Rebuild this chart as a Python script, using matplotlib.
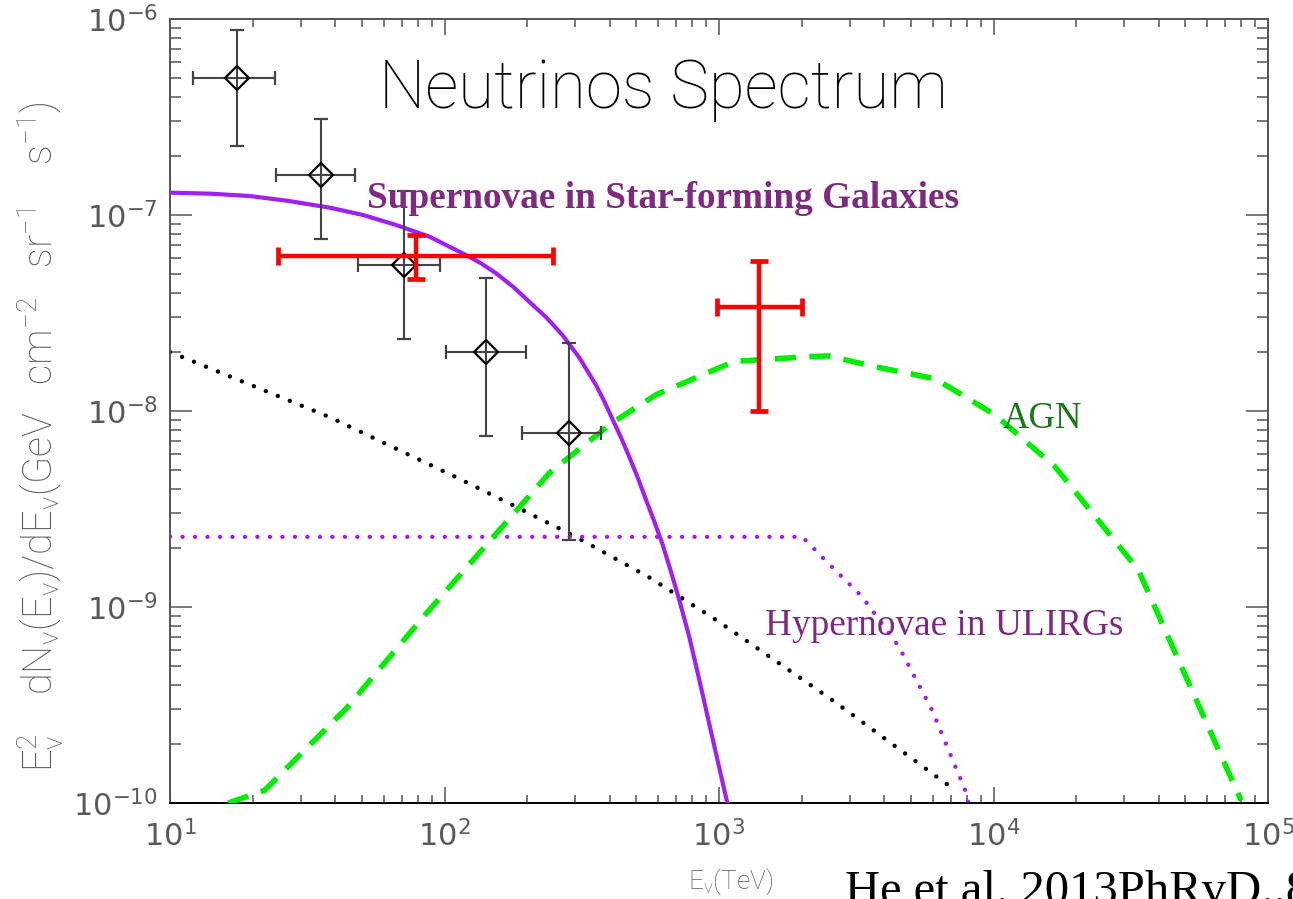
import matplotlib
matplotlib.use("Agg")
import matplotlib.pyplot as plt
from matplotlib.ticker import LogLocator, NullFormatter

# ---------------- data ----------------
# data points (black diamonds)
data_E = [17.5, 35.6, 71, 142, 283]
data_F = [5.0e-7, 1.6e-7, 5.56e-8, 2.0e-8, 7.76e-9]
data_E_lo = [12.1, 24.3, 48.3, 101, 191]
data_E_hi = [24.1, 47.1, 96, 198, 371]
data_F_lo = [2.25e-7, 7.55e-8, 2.33e-8, 7.45e-9, 2.2e-9]
data_F_hi = [8.8e-7, 3.1e-7, 1.33e-7, 4.75e-8, 2.23e-8]

# red points
red_E = [79, 1400]
red_F = [6.2e-8, 3.4e-8]
red_E_lo = [24.8, 986]
red_E_hi = [249, 2010]
red_F_lo = [4.7e-8, 1.0e-8]
red_F_hi = [7.9e-8, 5.8e-8]

# Supernovae in star-forming galaxies (solid purple)
sn_E = [10, 14, 19.5, 27, 38.2, 50.5, 66.7, 88.2, 116.6, 135, 154.2, 178, 203.6, 235,
        269, 310, 356, 382, 409, 440, 471, 505, 541, 580, 622, 668, 716, 780, 846,
        950, 1072]
sn_F = [1.3e-7, 1.285e-7, 1.25e-7, 1.18e-7, 1.09e-7, 1.0e-7, 8.89e-8, 7.75e-8,
        6.37e-8, 5.7e-8, 5.04e-8, 4.3e-8, 3.61e-8, 3.0e-8, 2.44e-8, 1.87e-8, 1.36e-8,
        1.12e-8, 9.1e-9, 7.3e-9, 5.84e-9, 4.6e-9, 3.55e-9, 2.75e-9, 2.1e-9, 1.52e-9,
        1.09e-9, 7.0e-10, 4.3e-10, 2.1e-10, 1.0e-10]

# black dotted curve
bk_E = [10, 38.2, 110, 172, 301, 565, 1000, 2580, 7260]
bk_F = [2.0e-8, 9.3e-9, 4.6e-9, 3.38e-9, 2.28e-9, 1.4e-9, 8.4e-10, 3.36e-10, 1.16e-10]

# Hypernovae in ULIRGs (dotted purple)
hn_E = [10, 2010, 2580, 3320, 4520, 5970, 7890, 8100]
hn_F = [2.28e-9, 2.28e-9, 1.6e-9, 1.13e-9, 6.28e-10, 2.98e-10, 1.16e-10, 1.0e-10]

# AGN (dashed green)
agn_E = [16.3, 22.1, 43.9, 88, 116, 241, 408, 589, 1135, 2065, 2512, 3715, 6140,
         10140, 16750, 33650, 79800]
agn_F = [1.0e-10, 1.16e-10, 3.04e-10, 9.66e-10, 1.5e-9, 4.83e-9, 8.7e-9, 1.21e-8,
         1.79e-8, 1.89e-8, 1.91e-8, 1.68e-8, 1.46e-8, 9.55e-9, 5.2e-9, 1.55e-9, 1.03e-10]

# ---------------- style ----------------
plt.rcParams['mathtext.fontset'] = 'custom'
plt.rcParams['mathtext.rm'] = 'Roboto:light'
plt.rcParams['mathtext.it'] = 'Roboto:light'
plt.rcParams['mathtext.bf'] = 'Roboto:bold'
plt.rcParams['axes.unicode_minus'] = True

W, H = 1293, 899
fig = plt.figure(figsize=(W / 100, H / 100), dpi=100)
ax = fig.add_axes([170 / W, 1 - 803 / H, 1098 / W, 784 / H])
ax.set_xscale('log')
ax.set_yscale('log')
ax.set_xlim(10, 1e5)
ax.set_ylim(1e-10, 1e-6)

gray = '#5a5a5a'
purple = '#A020F0'
green = '#00EE00'

# curves
ax.plot(bk_E, bk_F, color='black', lw=3.2, linestyle=(0, (0.01, 2.9)),
        dash_capstyle='round', zorder=2)
ax.plot(hn_E, hn_F, color=purple, lw=3.2, linestyle=(0, (0.01, 2.8)),
        dash_capstyle='round', zorder=2)
ax.plot(sn_E, sn_F, color=purple, lw=3.0, zorder=3)
ax.plot(agn_E, agn_F, color=green, lw=4.0, linestyle=(0, (3.8, 2.4)),
        dash_capstyle='butt', zorder=3)

# black data points
xerr = [[e - lo for e, lo in zip(data_E, data_E_lo)],
        [hi - e for e, hi in zip(data_E, data_E_hi)]]
yerr = [[f - lo for f, lo in zip(data_F, data_F_lo)],
        [hi - f for f, hi in zip(data_F, data_F_hi)]]
ax.errorbar(data_E, data_F, xerr=xerr, yerr=yerr, fmt='D', ms=12.5, mfc='none',
            mec='black', mew=1.6, ecolor='#444444', elinewidth=1.5, capsize=4.7,
            capthick=1.5, zorder=4)

# red points
rxerr = [[e - lo for e, lo in zip(red_E, red_E_lo)],
         [hi - e for e, hi in zip(red_E, red_E_hi)]]
ryerr = [[f - lo for f, lo in zip(red_F, red_F_lo)],
         [hi - f for f, hi in zip(red_F, red_F_hi)]]
ax.errorbar(red_E, red_F, xerr=rxerr, yerr=ryerr, fmt='none', ecolor='#FF0000',
            elinewidth=3.2, capsize=6.5, capthick=3.4, zorder=5)

# ticks
ax.xaxis.set_major_locator(LogLocator(base=10, numticks=10))
ax.xaxis.set_minor_locator(LogLocator(base=10, subs=range(2, 10), numticks=20))
ax.yaxis.set_major_locator(LogLocator(base=10, numticks=10))
ax.yaxis.set_minor_locator(LogLocator(base=10, subs=range(2, 10), numticks=20))
ax.xaxis.set_minor_formatter(NullFormatter())
ax.yaxis.set_minor_formatter(NullFormatter())
ax.tick_params(axis='both', which='both', direction='in', top=True, right=True,
               color='#555555', width=1.1)
ax.tick_params(axis='x', which='major', length=11.5, pad=12, labelsize=22,
               labelcolor=gray)
ax.tick_params(axis='x', which='minor', length=5.8)
ax.tick_params(axis='y', which='major', length=15.8, pad=8.5, labelsize=22,
               labelcolor=gray)
ax.tick_params(axis='y', which='minor', length=7.9)
for s in ['left', 'top', 'right']:
    ax.spines[s].set_color('#555555')
    ax.spines[s].set_linewidth(1.4)
ax.spines['bottom'].set_color('black')
ax.spines['bottom'].set_linewidth(1.4)

# texts
fig.text((380 + 947) / 2 / W, 1 - 108 / H, 'Neutrinos Spectrum', ha='center',
         va='baseline', fontsize=47.2, family='Roboto', weight='light', color='black')
fig.text(367 / W, 1 - 208 / H, 'Supernovae in Star-forming Galaxies', ha='left',
         va='baseline', fontsize=26.8, family='Liberation Serif', weight='bold',
         color='#7F2A80')
fig.text(1003 / W, 1 - 428 / H, 'AGN', ha='left', va='baseline', fontsize=26.5,
         family='Liberation Serif', color='#177A17')
fig.text(765 / W, 1 - 635 / H, 'Hypernovae in ULIRGs', ha='left', va='baseline',
         fontsize=26.8, family='Liberation Serif', color='#7F2A80')
fig.text(845 / W, 1 - 904 / H, 'He et al. 2013PhRvD..88', ha='left', va='baseline',
         fontsize=35, family='Liberation Serif', color='black')
fig.text(731 / W, 1 - 866 / H, r'E$_\nu$(TeV)', ha='center', va='top', fontsize=19,
         family='Roboto', weight='light', color=gray)
fig.text(40 / W, 1 - 437 / H,
         r'E$^2_\nu$    dN$_\nu$(E$_\nu$)/dE$_\nu$(GeV   cm$^{-2}$   sr$^{-1}$    s$^{-1}$)',
         ha='center', va='center', rotation=90, fontsize=28.5, family='Roboto',
         weight='light', color=gray)

fig.savefig('out.png', dpi=100)
